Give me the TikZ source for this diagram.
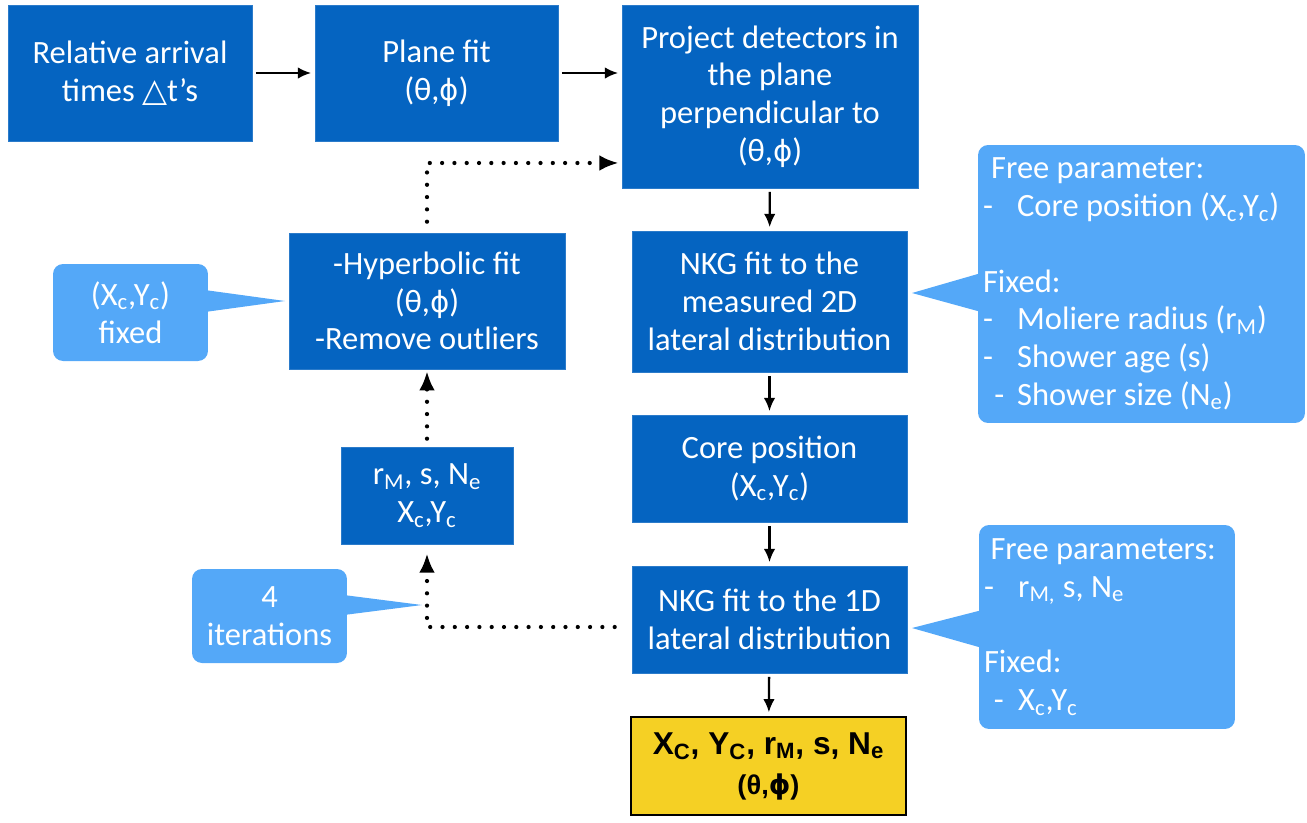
\documentclass[tikz,border=0pt]{standalone}
\usepackage{fontspec}
\setmainfont{Carlito}
\newfontfamily\arialfont{Liberation Sans}
\newfontfamily\symfont{DejaVu Sans}
\usetikzlibrary{arrows.meta}

\definecolor{boxblue}{RGB}{5,100,193}
\definecolor{callblue}{RGB}{84,168,248}
\definecolor{resyellow}{RGB}{245,208,36}

\newcommand{\lowidx}[1]{\textsubscript{#1}}
\newcommand{\dashitem}{\makebox[1.05em][l]{-}}
\newcommand{\thph}{(θ,{\symfont\fontsize{0.9em}{1em}\selectfont ϕ})}

\begin{document}
\begin{tikzpicture}[x=0.02cm,y=-0.02cm,
  stepbox/.style={rectangle, fill=boxblue, draw=boxblue!85!white, text=white, align=center, font=\fontsize{18.5}{21.5}\selectfont},
  tipbox/.style={rectangle, rounded corners=0.2cm, fill=callblue, text=white, font=\fontsize{18.5}{21.5}\selectfont},
  tipfill/.style={fill=callblue},
  resultbox/.style={rectangle, fill=resyellow, draw=black, line width=1.3pt, align=center, font=\arialfont\bfseries},
  solidarrow/.style={->, >={Latex[length=7.5pt,width=6.5pt]}, black, line width=1.3pt, shorten >=2pt, shorten <=2pt},
  iterarrow/.style={->, >={Latex[length=11pt,width=9pt]}, black, line width=2.4pt, dash pattern=on 0pt off 7pt, line cap=round}]
\useasboundingbox (0,0) rectangle (1307,822);

\node[stepbox, minimum width=4.88cm, minimum height=2.72cm] (rel) at (130,73) {Relative arrival\\times {\symfont △}t's};
\node[stepbox, minimum width=4.86cm, minimum height=2.72cm] (plane) at (436.5,73) {Plane fit\\\thph};
\node[stepbox, minimum width=5.92cm, minimum height=3.66cm] (proj) at (770,96.5) {Project detectors in\\the plane\\perpendicular to\\\thph};

\node[stepbox, minimum width=5.5cm, minimum height=2.82cm] (nkgA) at (769.5,301.5) {NKG fit to the\\measured 2D\\lateral distribution};
\node[stepbox, minimum width=5.5cm, minimum height=2.14cm] (core) at (769.5,468.5) {Core position\\(X\lowidx{c},Y\lowidx{c})};
\node[stepbox, minimum width=5.5cm, minimum height=2.14cm] (nkgB) at (769.5,619.5) {NKG fit to the 1D\\lateral distribution};
\node[resultbox, minimum width=5.5cm, minimum height=1.96cm] (result) at (768.5,766) {\fontsize{18}{22}\selectfont X\lowidx{C}, Y\lowidx{C}, r\lowidx{M}, s, N\lowidx{e}\\[7pt]\fontsize{15.5}{18}\selectfont (θ,{\symfont\bfseries ϕ})};

\node[stepbox, minimum width=5.52cm, minimum height=2.72cm] (hyp) at (427,301) {-Hyperbolic fit\\\thph\\-Remove outliers};
\node[stepbox, minimum width=3.44cm, minimum height=1.94cm] (rm) at (427,495.5) {r\lowidx{M}, s, N\lowidx{e}\\X\lowidx{c},Y\lowidx{c}};

\node[tipbox, align=center, minimum width=3.1cm, minimum height=1.94cm] (fixA) at (130.5,312.5) {(X\lowidx{c},Y\lowidx{c})\\fixed};
\node[tipbox, align=center, minimum width=3.1cm, minimum height=1.88cm] (iters) at (269.5,616) {4\\iterations};
\node[tipbox, align=flush left, text width=6.34cm, inner xsep=0.1cm, minimum height=5.56cm] (freeA) at (1141.5,284) {\hspace{0.25em}Free parameter:\\
\dashitem Core position (X\lowidx{c},Y\lowidx{c})\\[21.5pt]
Fixed:\\
\dashitem Moliere radius (r\lowidx{M})\\
\dashitem Shower age (s)\\
\makebox[0.35em]{}\makebox[0.7em][l]{-}Shower size (N\lowidx{e})};
\node[tipbox, align=flush left, text width=4.92cm, inner xsep=0.1cm, minimum height=4.08cm] (freeB) at (1107,627) {\hspace{0.2em}Free parameters:\\
\dashitem r\lowidx{M,} s, N\lowidx{e}\\[21.5pt]
Fixed:\\
\makebox[0.3em]{}\makebox[0.75em][l]{-}X\lowidx{c},Y\lowidx{c}};

\coordinate (fixTip) at (285,301);
\coordinate (iterTip) at (422,605);
\coordinate (freeATip) at (912,293);
\coordinate (freeBTip) at (912,628);
\fill[tipfill] ([xshift=-2pt,yshift=0.45cm]fixA.east) -- (fixTip) -- ([xshift=-2pt,yshift=0.01cm]fixA.east) -- cycle;
\fill[tipfill] ([xshift=-2pt,yshift=0.42cm]iters.east) -- (iterTip) -- ([xshift=-2pt,yshift=0.02cm]iters.east) -- cycle;
\fill[tipfill] ([xshift=2pt,yshift=0.22cm]freeA.west) -- (freeATip) -- ([xshift=2pt,yshift=-0.56cm]freeA.west) -- cycle;
\fill[tipfill] ([xshift=2pt,yshift=0.34cm]freeB.west) -- (freeBTip) -- ([xshift=2pt,yshift=-0.42cm]freeB.west) -- cycle;

\path[solidarrow] (rel) edge [] node[]{} (plane);
\draw[solidarrow] (plane.east) -- (plane.east -| proj.west);
\path[solidarrow] (proj) edge [] node[]{} (nkgA);
\path[solidarrow] (nkgA) edge [] node[]{} (core);
\path[solidarrow] (core) edge [] node[]{} (nkgB);
\path[solidarrow] (nkgB) edge [] node[]{} (result);

\draw[iterarrow, shorten <=0.34cm, shorten >=0.18cm] ([yshift=-0.15cm]nkgB.west) -| (rm.south);
\draw[iterarrow, shorten <=0.16cm, shorten >=1pt] (rm.north) -- (hyp.south);
\draw[iterarrow, shorten <=0.22cm, shorten >=0.06cm] (hyp.north) |- ([yshift=-1.33cm]proj.west);
\end{tikzpicture}
\end{document}
